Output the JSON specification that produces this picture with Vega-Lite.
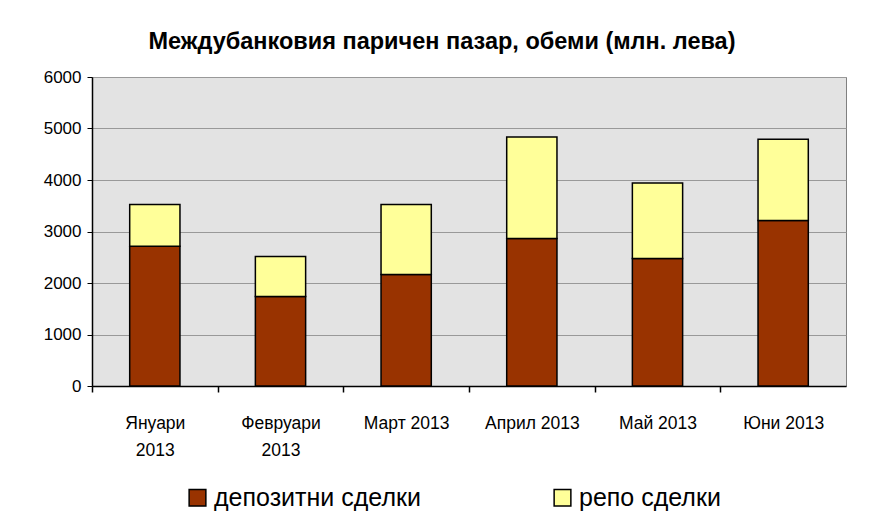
{
  "$schema": "https://vega.github.io/schema/vega-lite/v6.json",
  "autosize": "none",
  "width": 754,
  "height": 309,
  "padding": {"left": 92, "top": 77, "right": 25, "bottom": 133},
  "background": "white",
  "title": {
    "text": "Междубанковия паричен пазар, обеми (млн. лева)",
    "font": "Liberation Sans",
    "fontSize": 23.5,
    "fontWeight": "bold",
    "color": "black",
    "anchor": "middle",
    "dx": -27,
    "offset": 15
  },
  "data": {
    "values": [
      {"month": "Януари 2013", "type": "депозитни сделки", "ord": 1, "value": 2713},
      {"month": "Януари 2013", "type": "репо сделки", "ord": 2, "value": 809},
      {"month": "Февруари 2013", "type": "депозитни сделки", "ord": 1, "value": 1736},
      {"month": "Февруари 2013", "type": "репо сделки", "ord": 2, "value": 777},
      {"month": "Март 2013", "type": "депозитни сделки", "ord": 1, "value": 2163},
      {"month": "Март 2013", "type": "репо сделки", "ord": 2, "value": 1359},
      {"month": "Април 2013", "type": "депозитни сделки", "ord": 1, "value": 2862},
      {"month": "Април 2013", "type": "репо сделки", "ord": 2, "value": 1973},
      {"month": "Май 2013", "type": "депозитни сделки", "ord": 1, "value": 2474},
      {"month": "Май 2013", "type": "репо сделки", "ord": 2, "value": 1468},
      {"month": "Юни 2013", "type": "депозитни сделки", "ord": 1, "value": 3212},
      {"month": "Юни 2013", "type": "репо сделки", "ord": 2, "value": 1578}
    ]
  },
  "mark": {"type": "bar", "stroke": "black", "strokeWidth": 1.5},
  "encoding": {
    "x": {
      "field": "month",
      "type": "nominal",
      "sort": null,
      "scale": {"paddingInner": 0.6, "paddingOuter": 0.3},
      "axis": {
        "title": null,
        "labelAngle": 0,
        "labelFont": "Liberation Sans",
        "labelFontSize": 17.5,
        "labelColor": "black",
        "labelPadding": 22,
        "labelLineHeight": 27,
        "labelOffset": 62.8,
        "labelExpr": "length(datum.label) > 10 ? split(datum.label, ' ') : datum.label",
        "ticks": true,
        "tickOffset": -62.8,
        "tickColor": "black",
        "tickWidth": 1.5,
        "tickSize": 6,
        "domainColor": "black",
        "domainWidth": 1.5,
        "grid": false
      }
    },
    "y": {
      "field": "value",
      "type": "quantitative",
      "stack": "zero",
      "scale": {"domain": [0, 6000]},
      "axis": {
        "title": null,
        "values": [0, 1000, 2000, 3000, 4000, 5000, 6000],
        "format": "d",
        "labelFont": "Liberation Sans",
        "labelFontSize": 17,
        "labelColor": "black",
        "labelPadding": 6,
        "tickColor": "black",
        "tickSize": 5,
        "domainColor": "black",
        "domainWidth": 1.5,
        "gridColor": "#999999",
        "gridWidth": 1
      }
    },
    "color": {
      "field": "type",
      "type": "nominal",
      "scale": {"domain": ["депозитни сделки", "репо сделки"], "range": ["#993300", "#FFFF99"]},
      "legend": {
        "title": null,
        "orient": "none",
        "direction": "horizontal",
        "legendX": 93,
        "legendY": 408,
        "symbolType": "square",
        "symbolSize": 280,
        "symbolStrokeColor": "black",
        "symbolStrokeWidth": 1.5,
        "labelFont": "Liberation Sans",
        "labelFontSize": 25,
        "labelLimit": 400,
        "labelColor": "black",
        "columnPadding": 129,
        "labelOffset": 4
      }
    },
    "order": {"field": "ord", "type": "quantitative"}
  },
  "config": {
    "view": {"fill": "#E3E3E3", "stroke": "#808080", "strokeWidth": 1}
  }
}
